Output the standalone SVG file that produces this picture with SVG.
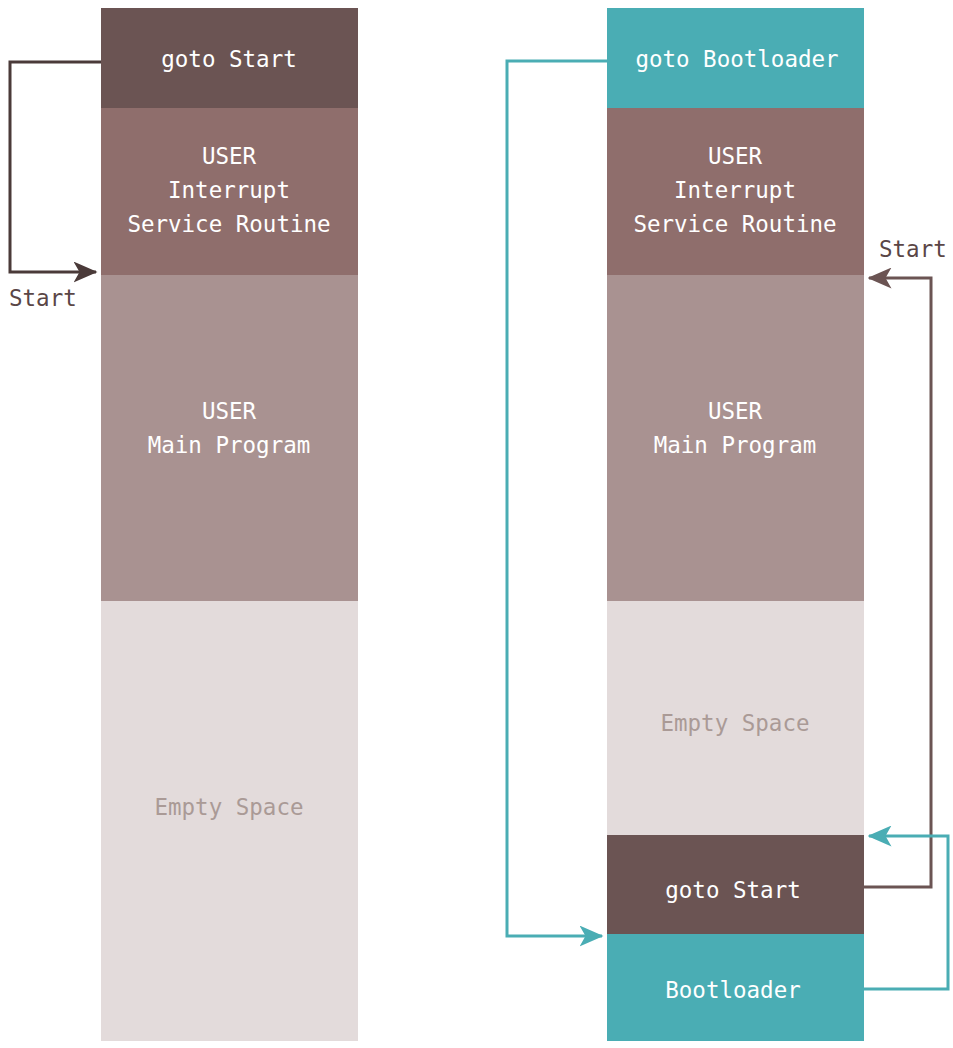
<svg xmlns="http://www.w3.org/2000/svg" width="953" height="1048" viewBox="0 0 953 1048">
<style>
text{font-family:"DejaVu Sans Mono","Liberation Mono",monospace;font-size:22.5px;text-anchor:middle;fill:#ffffff}
.dark{fill:#6b5453}.isr{fill:#8f6e6c}.main{fill:#a99291}.empty{fill:#e3dbdb}.teal{fill:#4aadb4}
.emptyt{fill:#aa9a96}
.lbl{fill:#5a4646;text-anchor:start}
.cb{fill:none;stroke:#4a3a39;stroke-width:3}
.cr{fill:none;stroke:#6b5453;stroke-width:3}
.ct{fill:none;stroke:#4aadb4;stroke-width:3}
</style>
<defs>
<marker id="ab" markerWidth="8" markerHeight="7" refX="7.5" refY="3.5" orient="auto" markerUnits="strokeWidth"><path d="M0,0 L8,3.5 L0,7 L2,3.5 z" fill="#4a3a39"/></marker>
<marker id="ar" markerWidth="8" markerHeight="7" refX="7.5" refY="3.5" orient="auto" markerUnits="strokeWidth"><path d="M0,0 L8,3.5 L0,7 L2,3.5 z" fill="#6b5453"/></marker>
<marker id="at" markerWidth="8" markerHeight="7" refX="7.5" refY="3.5" orient="auto" markerUnits="strokeWidth"><path d="M0,0 L8,3.5 L0,7 L2,3.5 z" fill="#4aadb4"/></marker>
</defs>
<g id="left">
<g id="l-goto"><rect class="dark" x="101" y="8" width="257" height="100"/><text x="229" y="67">goto Start</text></g>
<g id="l-isr"><rect class="isr" x="101" y="108" width="257" height="167"/><text x="229" y="164">USER</text><text x="229" y="198">Interrupt</text><text x="229" y="232">Service Routine</text></g>
<g id="l-main"><rect class="main" x="101" y="275" width="257" height="326"/><text x="229" y="419">USER</text><text x="229" y="453">Main Program</text></g>
<g id="l-empty"><rect class="empty" x="101" y="601" width="257" height="440"/><text class="emptyt" x="229" y="815">Empty Space</text></g>
</g>
<g id="right">
<g id="r-gotoboot"><rect class="teal" x="607" y="8" width="257" height="100"/><text x="737" y="67">goto Bootloader</text></g>
<g id="r-isr"><rect class="isr" x="607" y="108" width="257" height="167"/><text x="735" y="164">USER</text><text x="735" y="198">Interrupt</text><text x="735" y="232">Service Routine</text></g>
<g id="r-main"><rect class="main" x="607" y="275" width="257" height="326"/><text x="735" y="419">USER</text><text x="735" y="453">Main Program</text></g>
<g id="r-empty"><rect class="empty" x="607" y="601" width="257" height="234"/><text class="emptyt" x="735" y="731">Empty Space</text></g>
<g id="r-gotostart"><rect class="dark" x="607" y="835" width="257" height="99"/><text x="733" y="898">goto Start</text></g>
<g id="r-boot"><rect class="teal" x="607" y="934" width="257" height="107"/><text x="733" y="998">Bootloader</text></g>
</g>
<g id="connectors">
<path class="cb" d="M101,62 H10 V272 H96" marker-end="url(#ab)"/>
<text class="lbl" x="9" y="306">Start</text>
<path class="ct" d="M607,61 H507 V936 H602" marker-end="url(#at)"/>
<path class="cr" d="M864,887 H931 V278 H869" marker-end="url(#ar)"/>
<text class="lbl" x="879" y="257">Start</text>
<path class="ct" d="M864,989 H948 V836 H869" marker-end="url(#at)"/>
</g>
</svg>
